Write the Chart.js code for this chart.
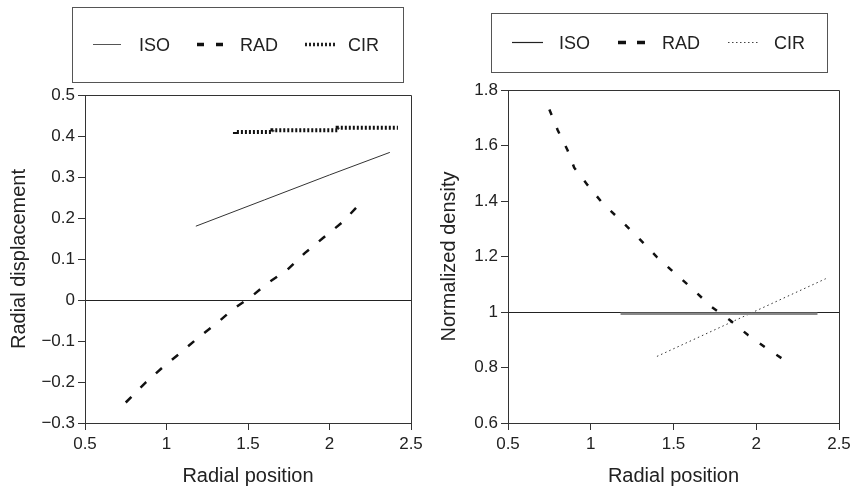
<!DOCTYPE html>
<html>
<head>
<meta charset="utf-8">
<script src="https://cdn.jsdelivr.net/npm/chart.js@4"></script>
<style>
    body { margin: 0; background: #fff; width: 855px; height: 493px; position: relative; overflow: hidden; }
    canvas { position: absolute; top: 0; }
    #leftChart { left: 0; }
    #rightChart { left: 430px; }
    #legends { position: absolute; left: 0; top: 0; }
    #legends text { font-family: "Liberation Sans", Arial, sans-serif; font-size: 18px; fill: #222; }
</style>
</head>
<body>

<canvas id="leftChart" width="430" height="493"></canvas>
<canvas id="rightChart" width="425" height="493"></canvas>

<svg id="legends" width="855" height="90">
    <rect x="72.5" y="7.5" width="331" height="75" fill="none" stroke="#555" stroke-width="1"/>
    <line x1="93" y1="44.5" x2="121" y2="44.5" stroke="#555" stroke-width="1"/>
    <text x="139" y="51">ISO</text>
    <line x1="197" y1="44.5" x2="223" y2="44.5" stroke="#111" stroke-width="3.5" stroke-dasharray="7 12"/>
    <text x="240" y="51">RAD</text>
    <line x1="305" y1="44.5" x2="335" y2="44.5" stroke="#222" stroke-width="3.5" stroke-dasharray="2 2"/>
    <text x="348" y="51">CIR</text>

    <rect x="491.5" y="13.5" width="336" height="59" fill="none" stroke="#555" stroke-width="1"/>
    <line x1="512" y1="42.5" x2="543" y2="42.5" stroke="#222" stroke-width="1.2"/>
    <text x="559" y="49">ISO</text>
    <line x1="618" y1="42.5" x2="645" y2="42.5" stroke="#111" stroke-width="3.5" stroke-dasharray="8 11"/>
    <text x="662" y="49">RAD</text>
    <line x1="728" y1="42.5" x2="758" y2="42.5" stroke="#444" stroke-width="1" stroke-dasharray="1.5 2.5"/>
    <text x="774" y="49">CIR</text>
</svg>

<script>

//Left chart data (radial displacement)
const leftIsoX = [1.18, 1.6, 2.0, 2.37];
const leftIsoY = [0.18, 0.244, 0.305, 0.36];

const leftRadX = [0.75, 0.87, 0.98, 1.1, 1.2, 1.31, 1.41, 1.52, 1.62, 1.74, 1.85, 1.96, 2.08, 2.2];
const leftRadY = [-0.25, -0.202, -0.163, -0.124, -0.09, -0.056, -0.022, 0.008, 0.041, 0.073, 0.115, 0.151, 0.19, 0.24];

const leftCirX = [1.42, 1.65, 2.05, 2.34, 2.42];
const leftCirY = [0.405, 0.41, 0.414, 0.42, 0.42];

//Right chart data (normalized density)
const rightIsoX = [1.18, 2.37];
const rightIsoY = [0.994, 0.994];

const rightRadX = [0.75, 0.8, 0.86, 0.9, 0.98, 1.07, 1.19, 1.3, 1.4, 1.5, 1.61, 1.73, 1.84, 1.95, 2.06, 2.2];
const rightRadY = [1.73, 1.656, 1.583, 1.52, 1.458, 1.393, 1.325, 1.26, 1.198, 1.144, 1.086, 1.018, 0.971, 0.917, 0.87, 0.815];

const rightCirX = [1.4, 2.42];
const rightCirY = [0.84, 1.12];

//Axis ticks
const xTicks = [0.5, 1, 1.5, 2, 2.5];
const leftYTicks = [-0.3, -0.2, -0.1, 0, 0.1, 0.2, 0.3, 0.4, 0.5];
const rightYTicks = [0.6, 0.8, 1, 1.2, 1.4, 1.6, 1.8];

const fontFamily = "'Liberation Sans', Arial, sans-serif";
const inkColor = "#222";

Chart.defaults.font.family = fontFamily;
Chart.defaults.color = inkColor;

function toPoints(xs, ys) {

    return xs.map((x, i) => ({ x: x, y: ys[i] }));

}

function formatTick(value) {

    if (Math.abs(value) < 1e-9) return "0";

    const text = String(parseFloat(Math.abs(value).toFixed(2)));

    return value < 0 ? "\u2212" + text : text;

}

//Draws the top and right edges of the plot box
const frameBox = {

    id: "frameBox",

    afterDraw(chart) {

        const { ctx, chartArea } = chart;

        ctx.save();
        ctx.strokeStyle = "#333";
        ctx.lineWidth = 1;
        ctx.beginPath();
        ctx.moveTo(Math.round(chartArea.left) + 0.5, Math.round(chartArea.top) + 0.5);
        ctx.lineTo(Math.round(chartArea.right) + 0.5, Math.round(chartArea.top) + 0.5);
        ctx.lineTo(Math.round(chartArea.right) + 0.5, Math.round(chartArea.bottom) + 0.5);
        ctx.stroke();
        ctx.restore();

    }

};

function buildChart(canvasId, cfg) {

    return new Chart(document.getElementById(canvasId), {

        type: "scatter",

        data: {

            datasets: cfg.datasets

        },

        options: {

            responsive: false,
            animation: false,
            devicePixelRatio: 1,

            layout: {

                padding: { left: 0, top: cfg.top, right: cfg.right, bottom: 0 }

            },

            plugins: {

                legend: { display: false },
                tooltip: { enabled: false }

            },

            elements: {

                point: { radius: 0, hoverRadius: 0 },
                line: { tension: 0, fill: false }

            },

            scales: {

                x: {

                    type: "linear",
                    min: 0.5,
                    max: 2.5,

                    afterBuildTicks: scale => {
                        scale.ticks = xTicks.map(v => ({ value: v }));
                    },

                    afterFit: scale => {
                        scale.height = 70;
                    },

                    ticks: {

                        callback: formatTick,
                        padding: 4,
                        maxRotation: 0,
                        color: inkColor,
                        font: { size: 17 }

                    },

                    grid: {

                        color: "rgba(0,0,0,0)",
                        tickColor: "#333",
                        tickLength: 7

                    },

                    border: { color: "#333", width: 1 },

                    title: {

                        display: true,
                        text: "Radial position",
                        color: inkColor,
                        font: { size: 20 },
                        padding: { top: 0, bottom: 5 }

                    }

                },

                y: {

                    type: "linear",
                    min: cfg.yMin,
                    max: cfg.yMax,

                    afterBuildTicks: scale => {
                        scale.ticks = cfg.yTicks.map(v => ({ value: v }));
                    },

                    afterFit: scale => {
                        scale.width = cfg.yWidth;
                    },

                    ticks: {

                        callback: formatTick,
                        padding: 3,
                        color: inkColor,
                        font: { size: 17 }

                    },

                    grid: {

                        color: ctx => Math.abs(ctx.tick.value - cfg.refLine) < 1e-9 ? "#222" : "rgba(0,0,0,0)",
                        tickColor: "#333",
                        tickLength: 7

                    },

                    border: { color: "#333", width: 1 },

                    title: {

                        display: true,
                        text: cfg.yTitle,
                        color: inkColor,
                        font: { size: 20 },
                        padding: { top: cfg.titlePad, bottom: 0 }

                    }

                }

            }

        },

        plugins: [frameBox]

    });

}

//Left chart
buildChart("leftChart", {

    top: 95,
    right: 19,
    yWidth: 85,
    titlePad: 7,
    yMin: -0.3,
    yMax: 0.5,
    yTicks: leftYTicks,
    refLine: 0,
    yTitle: "Radial displacement",

    datasets: [

        {
            label: "ISO",
            data: toPoints(leftIsoX, leftIsoY),
            showLine: true,
            borderColor: "#333",
            borderWidth: 1
        },

        {
            label: "RAD",
            data: toPoints(leftRadX, leftRadY),
            showLine: true,
            borderColor: "#111",
            borderWidth: 2.5,
            borderDash: [8, 13]
        },

        {
            label: "CIR",
            data: toPoints(leftCirX, leftCirY),
            showLine: true,
            stepped: "after",
            borderColor: "#111",
            borderWidth: 4,
            borderDash: [2, 2]
        }

    ]

});

//Right chart
buildChart("rightChart", {

    top: 90,
    right: 16,
    yWidth: 78,
    titlePad: 7,
    yMin: 0.6,
    yMax: 1.8,
    yTicks: rightYTicks,
    refLine: 1,
    yTitle: "Normalized density",

    datasets: [

        {
            label: "ISO",
            data: toPoints(rightIsoX, rightIsoY),
            showLine: true,
            borderColor: "#888",
            borderWidth: 2.5
        },

        {
            label: "RAD",
            data: toPoints(rightRadX, rightRadY),
            showLine: true,
            borderColor: "#111",
            borderWidth: 2.5,
            borderDash: [6, 14]
        },

        {
            label: "CIR",
            data: toPoints(rightCirX, rightCirY),
            showLine: true,
            borderColor: "#333",
            borderWidth: 1,
            borderDash: [1.5, 3]
        }

    ]

});

</script>
</body>
</html>
